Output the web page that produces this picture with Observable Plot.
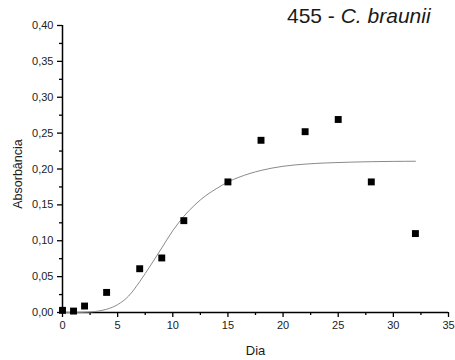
<!DOCTYPE html>
<html>
<head>
<meta charset="utf-8">
<script src="https://cdn.jsdelivr.net/npm/d3@7"></script>
<script src="https://cdn.jsdelivr.net/npm/@observablehq/plot@0.6"></script>
<style>
  html, body { margin: 0; padding: 0; background: #fff; }
  #wrap { position: relative; width: 455px; height: 360px; font-family: "Liberation Sans", Arial, sans-serif; }
  #title { position: absolute; left: 287px; top: 4px; font-size: 21px; color: #1a1a1a; white-space: nowrap; }
</style>
</head>
<body>
<div id="wrap">
  <div id="title">455 - <i>C. braunii</i></div>
</div>
<script>
// Measured points
const days = [0, 1, 2, 4, 7, 9, 11, 15, 18, 22, 25, 28, 32];
const absorb = [0.003, 0.002, 0.009, 0.028, 0.061, 0.076, 0.128, 0.182, 0.240, 0.252, 0.269, 0.182, 0.110];

// Fitted curve
const fitX = [0, 1, 2, 3, 4, 5, 6, 7, 8, 9, 10, 11, 12, 13, 14, 15, 16, 17, 18, 19, 20, 22, 24, 26, 28, 30, 32];
const fitY = [0, 0, 0.0003, 0.0015, 0.0045, 0.011, 0.023, 0.043, 0.066, 0.090, 0.114, 0.134, 0.150, 0.163, 0.173, 0.182, 0.1885, 0.1938, 0.198, 0.2013, 0.2038, 0.2068, 0.2085, 0.2095, 0.2102, 0.2106, 0.2108];

// Ticks
const xMajor = [0, 5, 10, 15, 20, 25, 30, 35];
const xMinor = [2.5, 7.5, 12.5, 17.5, 22.5, 27.5, 32.5];
const yMajor = [0, 0.05, 0.10, 0.15, 0.20, 0.25, 0.30, 0.35, 0.40];
const yMinor = [0.025, 0.075, 0.125, 0.175, 0.225, 0.275, 0.325, 0.375];

const xLabel = "Dia";
const yLabel = "Absorbância";

const points = days.map((d, i) => ({x: d, y: absorb[i]}));
const fit = fitX.map((d, i) => ({x: d, y: fitY[i]}));
const fmtY = d => d3.format(".2f")(d).replace(".", ",");

const chart = Plot.plot({
  width: 455,
  height: 360,
  marginLeft: 62,
  marginRight: 7,
  marginTop: 25,
  marginBottom: 48,
  style: {fontFamily: "Liberation Sans, Arial, sans-serif", fontSize: "11px", color: "#222", background: "#fff"},
  x: {domain: [0, 35]},
  y: {domain: [0, 0.4]},
  marks: [
    Plot.axisY(yMajor, {tickSize: 5, tickPadding: 4, tickFormat: fmtY, stroke: "#000", strokeWidth: 1.3, fontSize: 11, label: null}),
    Plot.axisY(yMinor, {tickSize: 3, tickFormat: () => "", stroke: "#000", strokeWidth: 1.3, label: null}),
    Plot.axisX(xMajor, {tickSize: 5, tickPadding: 4, tickFormat: d => String(d), stroke: "#000", strokeWidth: 1.3, fontSize: 11, label: null}),
    Plot.axisX(xMinor, {tickSize: 3, tickFormat: () => "", stroke: "#000", strokeWidth: 1.3, label: null}),
    Plot.text([yLabel], {frameAnchor: "left", textAnchor: "middle", lineAnchor: "middle", rotate: -90, dx: -45, dy: 5, fontSize: 12.5, fill: "#1a1a1a"}),
    Plot.text([xLabel], {frameAnchor: "bottom", textAnchor: "middle", lineAnchor: "middle", dy: 38, fontSize: 13, fill: "#1a1a1a"}),
    Plot.ruleX([0], {stroke: "#000", strokeWidth: 1.5}),
    Plot.ruleY([0], {stroke: "#000", strokeWidth: 1.5}),
    Plot.line(fit, {x: "x", y: "y", stroke: "#8a8a8a", strokeWidth: 1, curve: "monotone-x"}),
    Plot.dot(points, {x: "x", y: "y", symbol: "square", r: 3.9, fill: "#000", stroke: "none"})
  ]
});
document.getElementById("wrap").prepend(chart);
</script>
</body>
</html>
